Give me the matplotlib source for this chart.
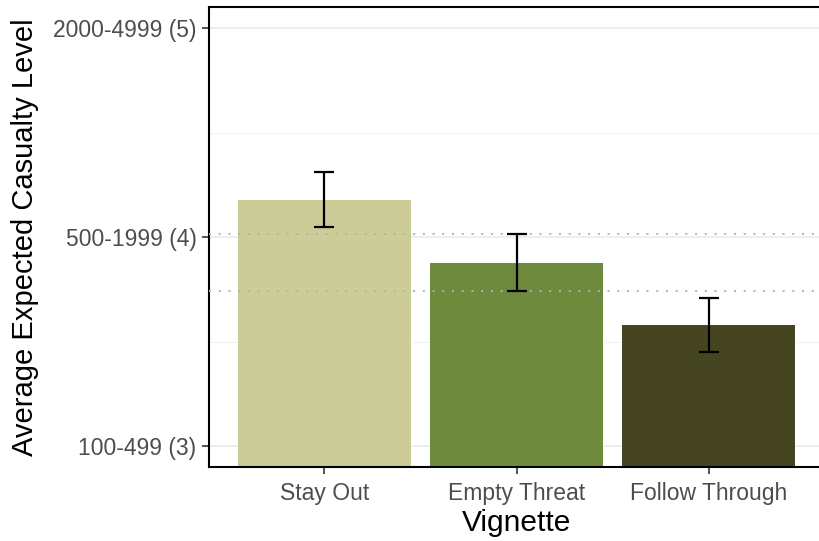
import matplotlib
matplotlib.use('Agg')
import matplotlib.pyplot as plt
import numpy as np

plt.rcParams['font.family'] = ['Liberation Sans', 'DejaVu Sans']

# data
vignettes = ['Stay Out', 'Empty Threat', 'Follow Through']
means = [4.18, 3.878, 3.579]
ci_low = [4.049, 3.740, 3.450]
ci_high = [4.311, 4.016, 3.708]
colors = ['#CCCC99', '#6E8B3D', '#454522']
ref_lines = [4.016, 3.740]   # dotted lines = Empty Threat CI

y_ticks = [3, 4, 5]
y_labels = ['100-499 (3)', '500-1999 (4)', '2000-4999 (5)']

fig = plt.figure(figsize=(8.2, 5.41), dpi=100)
ax = fig.add_axes([0.2549, 0.1368, 0.7500, 0.8497])

x = np.arange(len(vignettes))
ax.bar(x, np.array(means) - 2.9, bottom=2.9, width=0.9, color=colors, zorder=2)

err = [np.array(means) - np.array(ci_low), np.array(ci_high) - np.array(means)]
ax.errorbar(x, means, yerr=err, fmt='none', ecolor='black', elinewidth=1.6,
            capsize=7, capthick=1.6, zorder=4)

for yv in ref_lines:
    ax.axhline(yv, color='#b3b3b3', linestyle=(0, (1, 4)), linewidth=1.4, zorder=3)

ax.set_xlim(-0.6, 2.6)
ax.set_ylim(2.9, 5.1)
ax.set_yticks(y_ticks)
ax.set_yticklabels(y_labels)
ax.set_yticks([3.5, 4.5], minor=True)
ax.set_xticks(x)
ax.set_xticklabels(vignettes)

ax.grid(axis='y', which='major', color='#ebebeb', linewidth=1.2, zorder=0)
ax.grid(axis='y', which='minor', color='#f2f2f2', linewidth=0.8, zorder=0)
ax.set_axisbelow(True)

ax.tick_params(axis='both', which='major', labelsize=16.5, labelcolor='#4d4d4d',
               length=5, width=1.2, color='#333333')
ax.tick_params(axis='y', which='minor', length=0)
ax.tick_params(axis='x', pad=6)
ax.tick_params(axis='y', pad=4)

for s in ['left', 'bottom', 'top']:
    ax.spines[s].set_linewidth(1.5)
    ax.spines[s].set_color('black')
ax.spines['right'].set_visible(False)

ax.set_ylabel('Average Expected Casualty Level', fontsize=21, labelpad=10)
ax.set_xlabel('Vignette', fontsize=21.5, labelpad=3)

fig.savefig('out.png', dpi=100)
